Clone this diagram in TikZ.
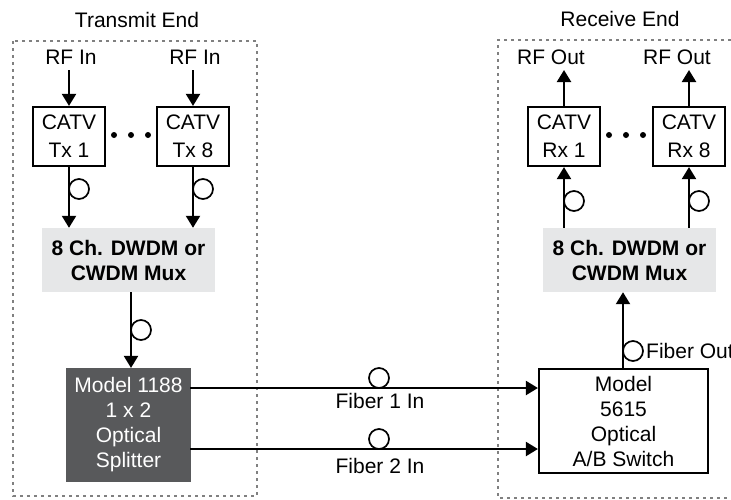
\documentclass[tikz,border=0pt]{standalone}
\usepackage{fontspec}
\setmainfont{Liberation Sans}
\usetikzlibrary{arrows.meta}
\definecolor{muxgray}{HTML}{E6E7E8}
\definecolor{darkbox}{HTML}{58595B}
\definecolor{framegray}{HTML}{808080}
\begin{document}
\begin{tikzpicture}[x=1pt,y=-1pt,
  lbl/.style={font=\fontsize{21}{25}\selectfont, align=center, inner sep=0pt},
  box/.style={draw, line width=2.2pt, lbl},
  catv/.style={box, minimum width=72pt, minimum height=59pt, font=\fontsize{21}{28}\selectfont},
  mux/.style={lbl, fill=muxgray, minimum width=173pt, minimum height=64pt, font=\fontsize{21}{25}\selectfont\bfseries},
  wire/.style={line width=2.2pt},
  arr/.style={wire, -{Triangle[length=12pt,width=14pt]}},
  loopc/.style={line width=1.7pt},
  frame/.style={draw=framegray, line width=1.5pt, dash pattern=on 3pt off 4pt},
  dot/.style={fill, circle, inner sep=0pt, minimum size=6pt}]
\clip (0,0) rectangle (731,499);
% frames
\draw[frame] (13,41) rectangle (257,496);
\draw[frame] (745,40) -- (498,40) -- (498,498) -- (745,498);
\node[lbl] (tend) at (137,20) {Transmit End};
\node[lbl] (rend) at (620,19) {Receive End};
% transmit side
\node[catv] (tx1) at (69,136.5) {CATV\\Tx 1};
\node[catv] (tx8) at (193,136.5) {CATV\\Tx 8};
\node[lbl] (rfin1) at (71,57) {RF In};
\node[lbl] (rfin8) at (195,57) {RF In};
\coordinate (rfa1) at (69,70);
\coordinate (rfa8) at (193,70);
\draw[arr] (rfa1) -- (tx1.north);
\draw[arr] (rfa8) -- (tx8.north);
\node[dot] (d1) at (114,135) {};
\node[dot] (d2) at (131,135) {};
\node[dot] (d3) at (148,135) {};
\node[mux] (muxl) at (128.5,260) {8 Ch. DWDM or\\CWDM Mux};
\draw[arr] (tx1.south) -- (tx1.south |- muxl.north);
\draw[arr] (tx8.south) -- (tx8.south |- muxl.north);
\draw[loopc] (79,189) circle[radius=10pt];
\draw[loopc] (203,189) circle[radius=10pt];
\node[box, fill=darkbox, draw=darkbox, text=white, minimum width=123pt, minimum height=112pt] (spl) at (128.5,425) {Model 1188\\1 x 2\\Optical\\Splitter};
\coordinate (ml) at (131,292);
\draw[arr] (ml) -- (ml |- spl.north);
\draw[loopc] (141,330) circle[radius=10pt];
% receive side
\node[box, minimum width=169pt, minimum height=104pt] (sw) at (623.5,421) {Model\\5615\\Optical\\A/B Switch};
\coordinate (f1) at (190,388);
\coordinate (f2) at (190,449);
\draw[arr] (f1) -- (f1 -| sw.west);
\draw[arr] (f2) -- (f2 -| sw.west);
\draw[loopc] (379,378) circle[radius=10pt];
\draw[loopc] (379,439) circle[radius=10pt];
\node[lbl] (fl1) at (380,401) {Fiber 1 In};
\node[lbl] (fl2) at (380,466) {Fiber 2 In};
\node[mux] (muxr) at (629.5,260) {8 Ch. DWDM or\\CWDM Mux};
\coordinate (so) at (623,369);
\draw[arr] (so) -- (so |- muxr.south);
\draw[loopc] (633,351) circle[radius=10pt];
\node[lbl, anchor=west] (fo) at (646,351) {Fiber Out};
\node[catv] (rx1) at (564,136.5) {CATV\\Rx 1};
\node[catv] (rx8) at (689,136.5) {CATV\\Rx 8};
\draw[arr] (rx1.south |- muxr.north) -- (rx1.south);
\draw[arr] (rx8.south |- muxr.north) -- (rx8.south);
\draw[loopc] (574,201) circle[radius=10pt];
\draw[loopc] (699,201) circle[radius=10pt];
\node[dot] (e1) at (609,135) {};
\node[dot] (e2) at (626,135) {};
\node[dot] (e3) at (643,135) {};
\node[lbl] (rfo1) at (551,57) {RF Out};
\node[lbl] (rfo8) at (677,57) {RF Out};
\coordinate (ra1) at (564,70);
\coordinate (ra8) at (689,70);
\draw[arr] (rx1.north) -- (ra1);
\draw[arr] (rx8.north) -- (ra8);
\end{tikzpicture}
\end{document}
